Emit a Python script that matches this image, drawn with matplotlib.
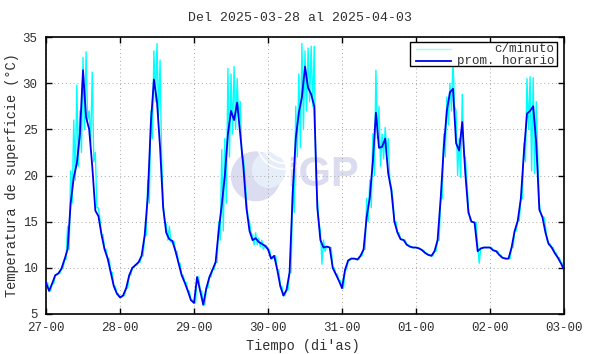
import numpy as np
import matplotlib

matplotlib.use("Agg")
import matplotlib.pyplot as plt  # noqa: E402
from matplotlib.patches import Ellipse, Arc, Rectangle  # noqa: E402

# hourly means, one list per day (27-03 .. 02-04), hours 0..23
prom_27 = [8.4, 7.5, 8.3, 9.2, 9.4, 9.9, 10.9, 12.0, 17.0, 19.8, 21.3, 24.5,
           31.4, 26.3, 25.0, 21.0, 16.2, 15.6, 13.6, 12.0, 11.0, 9.5, 8.0, 7.2]
prom_28 = [6.8, 7.0, 7.8, 9.2, 10.0, 10.3, 10.6, 11.3, 13.5, 17.7, 25.6, 30.4,
           28.0, 23.0, 16.5, 13.8, 13.1, 12.9, 11.8, 10.5, 9.2, 8.4, 7.5, 6.5]
prom_29 = [6.2, 9.0, 7.5, 6.0, 7.8, 9.0, 9.8, 10.6, 14.0, 16.8, 20.0, 24.5,
           27.0, 26.0, 27.9, 24.5, 21.0, 16.5, 14.0, 13.0, 13.2, 12.8, 12.6, 12.4]
prom_30 = [12.0, 11.0, 11.3, 9.8, 8.0, 7.0, 7.6, 9.5, 18.0, 24.0, 26.8, 28.5,
           31.8, 29.5, 28.8, 27.5, 16.5, 13.0, 12.2, 12.3, 12.2, 10.0, 9.3, 8.6]
prom_31 = [7.8, 9.8, 10.8, 11.0, 11.0, 10.9, 11.3, 12.0, 15.5, 17.6, 21.5, 26.8,
           23.0, 23.1, 24.0, 20.2, 18.4, 15.0, 13.8, 13.1, 13.0, 12.5, 12.3, 12.2]
prom_01 = [12.2, 12.1, 11.9, 11.6, 11.4, 11.3, 11.8, 13.0, 17.5, 23.0, 27.0, 29.0,
           29.4, 23.5, 22.7, 25.8, 20.2, 16.0, 15.0, 14.9, 11.8, 12.1, 12.2, 12.2]
prom_02 = [12.2, 11.9, 11.8, 11.4, 11.1, 11.0, 11.0, 12.2, 14.0, 15.1, 17.5, 22.5,
           26.7, 27.0, 27.5, 23.5, 16.3, 15.5, 13.8, 12.6, 12.2, 11.6, 11.1, 10.5]
prom_final = 9.8

# per-minute readings: hourly (max, min) where they stray from the hourly mean
# (day index, hour, max, min)
minuto_picos = [
    (0, 7, 14.5, 12.0), (0, 8, 20.5, 17.0), (0, 9, 26.0, 19.5), (0, 10, 29.8, 21.0),
    (0, 11, 27.0, 22.5), (0, 12, 32.8, 25.0), (0, 13, 33.4, 26.0), (0, 14, 27.0, 23.5),
    (0, 15, 31.2, 21.5), (0, 16, 22.5, 16.5), (0, 17, 16.5, 15.3),
    (1, 9, 19.5, 17.0), (1, 10, 27.0, 24.0), (1, 11, 33.5, 28.0), (1, 12, 34.3, 26.5),
    (1, 13, 32.5, 22.0), (1, 14, 17.0, 15.0), (1, 15, 14.8, 13.0), (1, 16, 14.5, 12.8),
    (2, 8, 15.0, 13.0), (2, 9, 22.8, 14.0), (2, 10, 24.0, 17.0), (2, 11, 31.6, 22.0),
    (2, 12, 31.0, 24.5), (2, 13, 31.8, 25.0), (2, 14, 30.5, 26.0), (2, 15, 28.0, 22.0),
    (2, 16, 22.0, 20.0), (2, 17, 17.5, 15.5), (2, 18, 15.0, 13.8), (2, 19, 13.5, 12.5),
    (2, 20, 13.8, 12.5), (2, 21, 13.2, 12.3), (2, 22, 13.0, 12.0),
    (3, 8, 19.0, 16.0), (3, 9, 27.5, 22.0), (3, 10, 31.0, 23.0), (3, 11, 34.3, 25.0),
    (3, 12, 33.5, 27.0), (3, 13, 33.8, 28.0), (3, 14, 34.0, 27.5), (3, 15, 34.0, 20.0),
    (3, 16, 17.5, 15.0), (3, 17, 14.0, 10.4), (3, 18, 13.0, 11.8),
    (4, 8, 17.5, 15.0), (4, 9, 19.5, 16.5), (4, 10, 24.5, 20.0), (4, 11, 31.4, 24.0),
    (4, 12, 27.5, 21.0), (4, 13, 24.5, 21.8), (4, 14, 25.2, 22.5), (4, 15, 24.0, 19.5),
    (4, 16, 18.8, 17.5),
    (5, 9, 24.5, 22.0), (5, 10, 28.5, 25.5), (5, 11, 30.0, 27.0), (5, 12, 32.5, 27.5),
    (5, 13, 27.0, 20.0), (5, 14, 24.0, 19.8), (5, 15, 28.8, 22.0), (5, 16, 22.0, 19.5),
    (5, 17, 16.5, 15.2), (5, 20, 12.5, 10.5),
    (6, 11, 23.5, 21.5), (6, 12, 30.5, 25.0), (6, 13, 30.7, 20.5), (6, 14, 30.6, 20.2),
    (6, 15, 28.0, 22.0), (6, 16, 17.0, 15.8), (6, 18, 14.5, 13.0),
]

tick_labels = ["27-00", "28-00", "29-00", "30-00", "31-00", "01-00", "02-00", "03-00"]
titulo = "Del 2025-03-28 al 2025-04-03"

FONT = "Liberation Mono"
TXT = "#303030"

prom = np.array(prom_27 + prom_28 + prom_29 + prom_30 + prom_31 + prom_01 + prom_02 + [prom_final])
t = np.arange(len(prom)) / 24.0

# minute envelope drawn as a zig-zag (max, min) per hour
hi = prom[:-1].copy()
lo = prom[:-1].copy()
for d, h, vmax, vmin in minuto_picos:
    hi[d * 24 + h] = vmax
    lo[d * 24 + h] = vmin
t_min = np.empty(2 * len(hi))
v_min = np.empty(2 * len(hi))
t_min[0::2] = t[:-1]
t_min[1::2] = t[:-1] + 0.5 / 24
v_min[0::2] = hi
v_min[1::2] = lo
t_min = np.append(t_min, t[-1])
v_min = np.append(v_min, prom_final)

fig = plt.figure(figsize=(5.9, 3.54), dpi=100)
ax = fig.add_axes([46 / 590, 40 / 354, 518 / 590, 277 / 354])

# IGP watermark
ax.add_patch(Ellipse((0.405, 0.497), 50 / 518, 50 / 277, transform=ax.transAxes,
                     facecolor="#dcdcf0", edgecolor="none", zorder=0.2))
ax.add_patch(Ellipse((0.43, 0.52), 34 / 518, 36 / 277, transform=ax.transAxes,
                     facecolor="#e6eefa", edgecolor="none", zorder=0.21))
for r in (30, 42, 54):
    ax.add_patch(Arc((0.46, 0.62), r / 518, r / 277, theta1=150, theta2=290,
                     transform=ax.transAxes, color="white", lw=1.2, zorder=0.22))
ax.text(0.535, 0.502, "IGP", transform=ax.transAxes, ha="center", va="center",
        fontsize=30, fontweight="bold", family="Liberation Sans", color="#dcdcf0",
        zorder=0.2)

ax.plot(t_min, v_min, color="#00ffff", lw=1.0, zorder=2)
ax.plot(t, prom, color="#0000f0", lw=1.3, zorder=3)

ax.set_xlim(0, 7)
ax.set_ylim(5, 35)
ax.set_xticks(np.arange(8))
ax.set_xticklabels(tick_labels)
ax.set_yticks(np.arange(5, 36, 5))
ax.set_axisbelow(True)
ax.grid(True, color="#a8a8a8", lw=0.7, linestyle=(0, (1, 3)))
ax.tick_params(direction="in", length=4.5, width=1, top=True, right=True,
               labelsize=9, labelcolor=TXT, pad=6)
for lbl in ax.get_xticklabels() + ax.get_yticklabels():
    lbl.set_family(FONT)
for sp in ax.spines.values():
    sp.set_linewidth(1.2)

# legend box, gnuplot style
ax.add_patch(Rectangle((0.703, 0.895), 0.283, 0.088, transform=ax.transAxes,
                       facecolor="white", edgecolor="black", lw=1, zorder=4))
ax.plot([0.715, 0.782], [0.958, 0.958], transform=ax.transAxes, color="#a0ffff",
        lw=1, zorder=5)
ax.plot([0.715, 0.782], [0.913, 0.913], transform=ax.transAxes, color="#0000f0",
        lw=1.3, zorder=5)
ax.text(0.982, 0.958, "c/minuto", transform=ax.transAxes, ha="right", va="center",
        family=FONT, fontsize=9, color=TXT, zorder=5)
ax.text(0.982, 0.913, "prom. horario", transform=ax.transAxes, ha="right", va="center",
        family=FONT, fontsize=9, color=TXT, zorder=5)

fig.text(300 / 590, 1 - 18 / 354, titulo, ha="center", va="center",
         family=FONT, fontsize=9.5, color=TXT)
fig.text(303 / 590, 1 - 346 / 354, "Tiempo (di'as)", ha="center", va="center",
         family=FONT, fontsize=9.8, color=TXT)
fig.text(12 / 590, 1 - 175 / 354, "Temperatura de superficie (°C)", ha="center",
         va="center", rotation=90, family=FONT, fontsize=9.8, color=TXT)

fig.savefig("out.png", dpi=100)
